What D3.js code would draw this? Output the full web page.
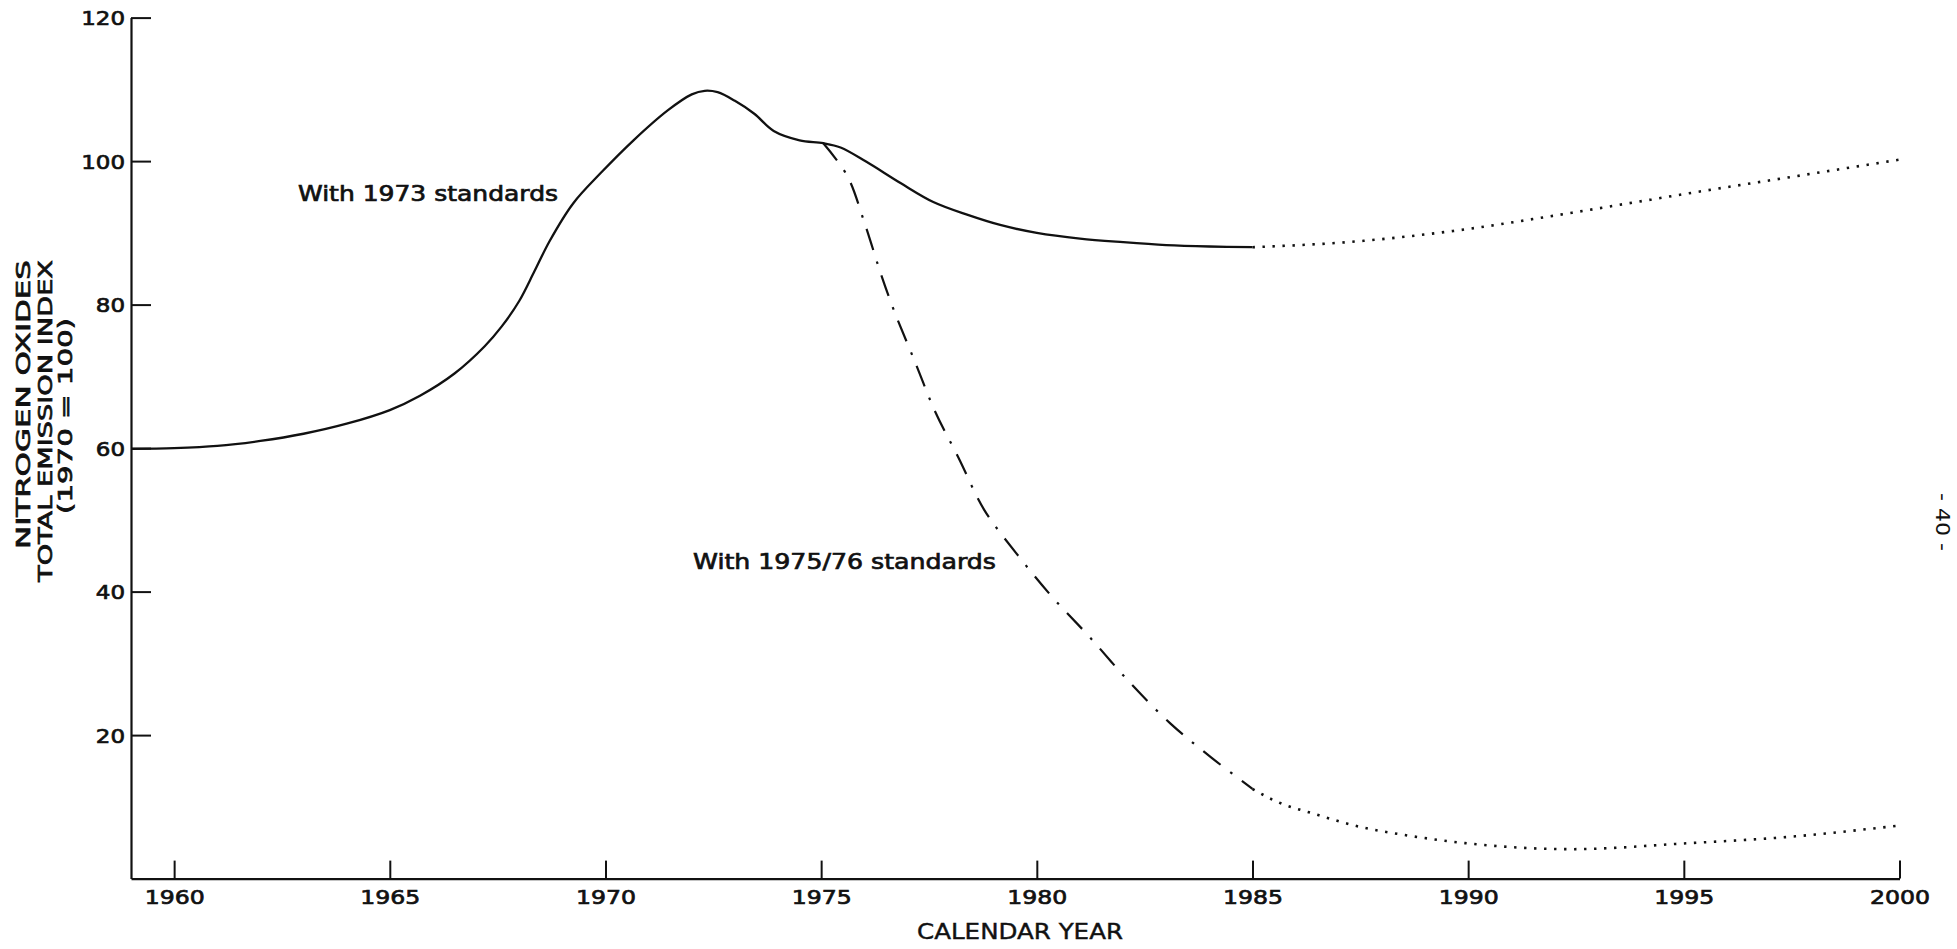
<!DOCTYPE html>
<html>
<head>
<meta charset="utf-8">
<script src="https://cdn.jsdelivr.net/npm/d3@7"></script>
<style>
  body { margin: 0; background: #fff; }
  svg text { font-family: "DejaVu Sans", "Liberation Sans", sans-serif; fill: #111; }
</style>
</head>
<body>
<svg id="chart" width="1957" height="949"></svg>
<script>
// Tick values
const yearTicks = [1960, 1965, 1970, 1975, 1980, 1985, 1990, 1995, 2000];
const indexTicks = [20, 40, 60, 80, 100, 120];

// Total NOx emission index (1970 = 100), with 1973 standards — to 1985
const std1973Years = [1959.0, 1960, 1961, 1962, 1963, 1964, 1965, 1965.7, 1966.5, 1967.2, 1967.6, 1968.0,
  1968.35, 1968.7, 1969.25, 1969.9, 1970.65, 1971.45, 1972.0, 1972.3, 1972.6, 1973.0, 1973.45, 1973.9,
  1974.5, 1975.05, 1975.45, 1976.05, 1976.85, 1977.6, 1978.4, 1979.15, 1980, 1981, 1982, 1983, 1984, 1985];
const std1973Index = [59.9, 60.0, 60.3, 61.0, 62.0, 63.4, 65.3, 67.3, 70.4, 74.2, 77.0, 80.5,
  84.6, 88.8, 94.1, 98.4, 102.9, 107.1, 109.3, 109.8, 109.6, 108.4, 106.6, 104.2,
  102.9, 102.5, 101.9, 99.9, 96.9, 94.3, 92.5, 91.1, 90.0, 89.2, 88.7, 88.3, 88.1, 88.0];

// With 1973 standards — extrapolation 1985-2000
const std1973ExtYears = [1985, 1987.4, 1989.7, 1992.1, 1993.9, 1995, 1997.5, 2000];
const std1973ExtIndex = [88.0, 88.8, 90.3, 92.5, 94.3, 95.4, 97.8, 100.2];

// With 1975/76 standards — 1975 to 1985
const std1976Years = [1975.05, 1975.6, 1976.0, 1976.4, 1976.7, 1977.17, 1977.65, 1978.19, 1978.78,
  1979.53, 1980.35, 1981.22, 1982.16, 1983.1, 1984.04, 1985];
const std1976Index = [102.5, 98.0, 91.5, 84.0, 79.0, 72.1, 65.0, 58.6, 51.4,
  45.3, 39.3, 33.7, 27.3, 21.6, 16.9, 12.5];

// With 1975/76 standards — extrapolation 1985-2000
const std1976ExtYears = [1985, 1985.5, 1986.5, 1987.5, 1988.5, 1990, 1992.4, 1995, 1997.4, 2000];
const std1976ExtIndex = [12.5, 10.9, 8.9, 7.2, 6.1, 4.9, 4.1, 4.9, 5.8, 7.4];

const svg = d3.select("#chart");

const x = d3.scaleLinear().domain([1959, 2000]).range([131, 1899.5]);
const y = d3.scaleLinear().domain([0, 120]).range([878.6, 17.6]);

// Axes
const xAxis = d3.axisBottom(x)
  .tickValues(yearTicks)
  .tickFormat(d3.format("d"))
  .tickSizeInner(-18)
  .tickSizeOuter(0)
  .tickPadding(25);

const gx = svg.append("g")
  .attr("transform", `translate(0,${y(0)})`)
  .call(xAxis);

const yAxis = d3.axisLeft(y)
  .tickValues(indexTicks)
  .tickSizeInner(-20)
  .tickSizeOuter(0)
  .tickPadding(6);

const gy = svg.append("g")
  .attr("transform", `translate(${x(1959)},0)`)
  .call(yAxis);

[gx, gy].forEach(g => {
  g.select(".domain").attr("stroke", "#111").attr("stroke-width", 2.2);
  g.selectAll(".tick line").attr("stroke", "#111").attr("stroke-width", 2);
  g.selectAll(".tick text")
    .attr("font-size", 20)
    .attr("font-family", "DejaVu Sans")
    .attr("fill", "#111")
    .attr("stroke", "#111")
    .attr("stroke-width", 0.7)
    .attr("lengthAdjust", "spacingAndGlyphs");
});
gx.selectAll(".tick text").attr("dy", 0).attr("textLength", 60);
gy.selectAll(".tick text").attr("dy", "0.36em")
  .attr("textLength", d => String(d).length * 14.6);

// Lines
const zipSeries = (xs, ys) => xs.map((v, i) => [v, ys[i]]);

const smoothLine = d3.line()
  .x(d => x(d[0]))
  .y(d => y(d[1]))
  .curve(d3.curveCatmullRom.alpha(0.5));

const monoLine = d3.line()
  .x(d => x(d[0]))
  .y(d => y(d[1]))
  .curve(d3.curveMonotoneX);

svg.append("path")
  .datum(zipSeries(std1973Years, std1973Index))
  .attr("d", smoothLine)
  .attr("fill", "none")
  .attr("stroke", "#111")
  .attr("stroke-width", 2.3)
  .attr("stroke-linejoin", "round");

svg.append("path")
  .datum(zipSeries(std1973ExtYears, std1973ExtIndex))
  .attr("d", monoLine)
  .attr("fill", "none")
  .attr("stroke", "#111")
  .attr("stroke-width", 2.6)
  .attr("stroke-dasharray", "2.4 7.6");

svg.append("path")
  .datum(zipSeries(std1976Years, std1976Index))
  .attr("d", smoothLine)
  .attr("fill", "none")
  .attr("stroke", "#111")
  .attr("stroke-width", 2.2)
  .attr("stroke-dasharray", "22 12 2.6 12");

svg.append("path")
  .datum(zipSeries(std1976ExtYears, std1976ExtIndex))
  .attr("d", monoLine)
  .attr("fill", "none")
  .attr("stroke", "#111")
  .attr("stroke-width", 2.6)
  .attr("stroke-dasharray", "2.4 7.6");

// Text helper
function label(txt, attrs) {
  const t = svg.append("text").text(txt)
    .attr("stroke", "#111").attr("stroke-width", 0.7)
    .attr("lengthAdjust", "spacingAndGlyphs");
  Object.entries(attrs).forEach(([k, v]) => t.attr(k, v));
  return t;
}

// Series annotations
label("With 1973 standards", { x: 298, y: 201, "font-size": 21, textLength: 260 });
label("With 1975/76 standards", { x: 693, y: 569, "font-size": 21, textLength: 303 });

// Axis titles
label("CALENDAR YEAR", { x: 1020, y: 939, "font-size": 21, "text-anchor": "middle",
  textLength: 206, "stroke-width": 0.4 });

const yTitle = svg.append("g").attr("transform", "rotate(-90)");
[["NITROGEN OXIDES", 30, 260, "end", 289],
 ["TOTAL EMISSION INDEX", 52, 260, "end", 322],
 ["(1970 = 100)", 72, 416, "middle", 196]].forEach(([t, cx, cy, anchor, len]) => {
  yTitle.append("text").text(t)
    .attr("x", -cy).attr("y", cx)
    .attr("text-anchor", anchor)
    .attr("font-size", 20)
    .attr("textLength", len)
    .attr("lengthAdjust", "spacingAndGlyphs")
    .attr("stroke", "#111").attr("stroke-width", 0.7);
});

// Page number
svg.append("text").text("- 40 -")
  .attr("transform", "translate(1936,522) rotate(90)")
  .attr("text-anchor", "middle")
  .attr("font-size", 20)
  .attr("textLength", 58)
  .attr("lengthAdjust", "spacingAndGlyphs")
  .attr("fill", "#222");
</script>
</body>
</html>
